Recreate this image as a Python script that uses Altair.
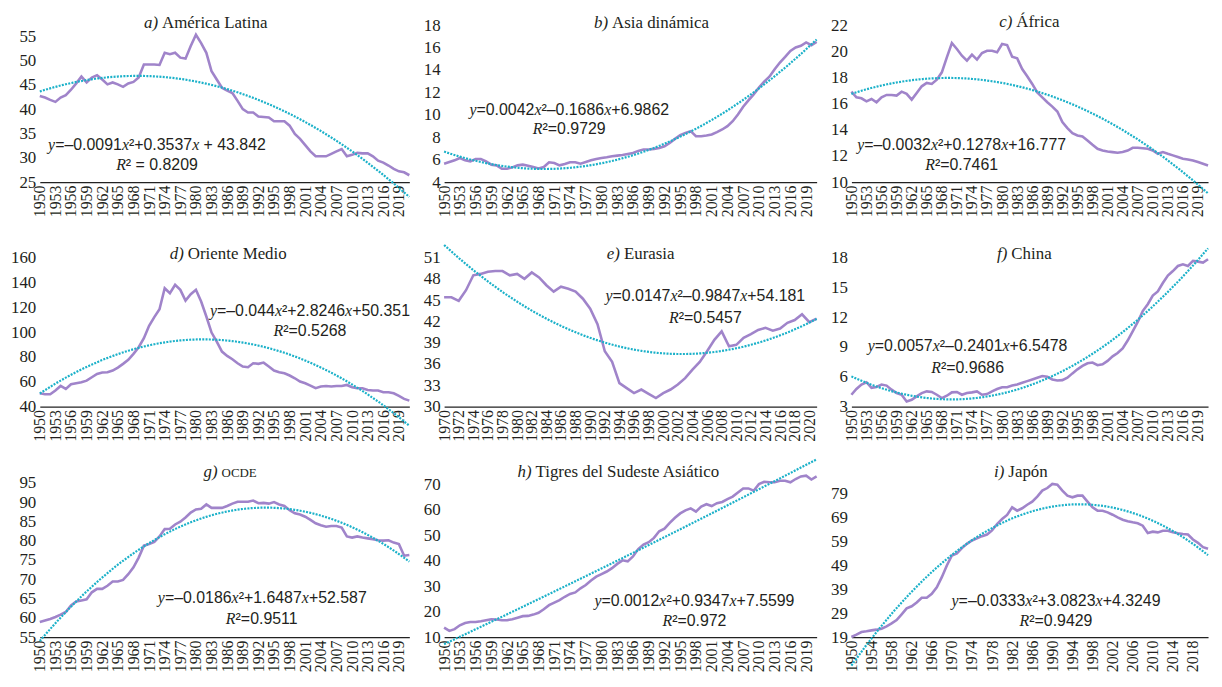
import altair as alt
import pandas as pd

years = list(range(1950, 2022))
years_eurasia = list(range(1970, 2022))

america_latina = [42.7, 42.4, 41.9, 41.5, 42.4, 42.9, 44.0, 45.3, 46.7, 45.5,
                  46.5, 47.0, 46.1, 45.1, 45.5, 45.1, 44.6, 45.3, 45.6, 46.5,
                  49.2, 49.2, 49.2, 49.1, 51.6, 51.3, 51.6, 50.6, 50.4, 53.0,
                  55.3, 53.6, 51.6, 47.8, 46.1, 44.4, 43.8, 43.3, 41.7, 40.0,
                  39.3, 39.3, 38.5, 38.4, 38.3, 37.5, 37.5, 37.5, 36.6, 34.9,
                  33.9, 32.6, 31.3, 30.3, 30.3, 30.3, 30.8, 31.3, 31.8, 30.3,
                  30.6, 31.0, 30.9, 30.9, 30.3, 29.4, 29.0, 28.4, 27.7, 27.2,
                  27.0, 26.4]

asia_dinamica = [5.64, 5.79, 5.94, 6.15, 5.94, 5.85, 6.06, 6.06, 5.85, 5.55,
                 5.49, 5.19, 5.19, 5.31, 5.49, 5.55, 5.46, 5.34, 5.22, 5.34,
                 5.76, 5.70, 5.49, 5.61, 5.76, 5.76, 5.64, 5.79, 5.94, 6.06,
                 6.15, 6.21, 6.30, 6.36, 6.42, 6.51, 6.60, 6.78, 6.90, 6.90,
                 6.96, 7.04, 7.19, 7.49, 7.85, 8.18, 8.39, 8.54, 8.09, 8.09,
                 8.15, 8.24, 8.45, 8.69, 8.99, 9.43, 10.03, 10.72, 11.28, 11.82,
                 12.42, 12.96, 13.40, 14.06, 14.66, 15.16, 15.70, 16.00, 16.15, 16.45,
                 16.21, 16.51]

africa = [16.91, 16.48, 16.40, 16.17, 16.35, 16.10, 16.48, 16.66, 16.66, 16.61,
          16.91, 16.74, 16.30, 16.81, 17.32, 17.58, 17.50, 17.83, 18.39, 19.53,
          20.63, 20.17, 19.66, 19.28, 19.74, 19.36, 19.86, 20.04, 20.04, 19.92,
          20.55, 20.47, 19.58, 19.46, 18.64, 18.09, 17.50, 16.86, 16.48, 16.10,
          15.77, 15.39, 14.58, 14.12, 13.74, 13.56, 13.48, 13.18, 12.85, 12.54,
          12.41, 12.34, 12.29, 12.24, 12.29, 12.41, 12.62, 12.62, 12.59, 12.54,
          12.41, 12.16, 12.29, 12.16, 12.04, 11.91, 11.78, 11.73, 11.65, 11.53,
          11.40, 11.27]

oriente_medio = [50.7, 49.9, 49.9, 52.9, 56.6, 54.2, 58.0, 58.8, 59.6, 60.9,
                 63.6, 66.3, 67.4, 67.7, 69.0, 71.4, 74.4, 77.6, 82.4, 87.8,
                 95.0, 105.0, 112.0, 118.4, 135.3, 131.3, 138.0, 134.0, 125.4, 130.5,
                 134.0, 124.6, 112.5, 99.6, 92.3, 84.3, 80.8, 78.1, 74.9, 72.2,
                 71.7, 74.9, 74.4, 75.4, 72.2, 69.0, 67.7, 66.8, 65.0, 62.8,
                 60.1, 58.8, 56.9, 54.8, 56.1, 56.6, 56.1, 56.6, 56.6, 57.4,
                 55.6, 54.8, 54.8, 53.4, 52.9, 52.9, 51.5, 51.5, 50.7, 48.6,
                 46.2, 44.8]

eurasia = [45.4, 45.4, 44.9, 46.4, 48.5, 48.7, 49.0, 49.1, 49.1, 48.5,
           48.7, 48.0, 48.9, 48.2, 47.1, 46.2, 46.9, 46.6, 46.2, 45.2,
           43.8, 41.6, 37.8, 36.3, 33.3, 32.6, 31.9, 32.4, 31.8, 31.2,
           31.9, 32.4, 33.1, 34.0, 35.2, 36.3, 37.8, 39.4, 40.6, 38.5,
           38.7, 39.7, 40.2, 40.8, 41.1, 40.7, 41.0, 41.8, 42.2, 43.0,
           41.9, 42.4]

china = [4.19, 4.77, 5.22, 5.45, 4.88, 4.98, 5.22, 5.11, 4.70, 4.36,
         4.19, 3.51, 3.68, 4.02, 4.36, 4.53, 4.47, 4.19, 3.85, 4.09,
         4.43, 4.47, 4.19, 4.36, 4.43, 4.53, 4.19, 4.26, 4.53, 4.77,
         4.94, 4.94, 5.11, 5.22, 5.39, 5.56, 5.73, 5.90, 6.07, 6.00,
         5.73, 5.63, 5.66, 5.90, 6.34, 6.75, 7.09, 7.36, 7.43, 7.16,
         7.26, 7.60, 8.05, 8.39, 8.86, 9.65, 10.57, 11.52, 12.61, 13.30,
         14.18, 14.59, 15.44, 16.19, 16.64, 17.15, 17.32, 17.15, 17.66, 17.59,
         17.49, 17.83]

ocde = [58.9, 59.3, 59.7, 60.2, 60.8, 61.5, 63.2, 64.2, 64.5, 64.8,
        66.6, 67.5, 67.5, 68.3, 69.4, 69.4, 69.8, 71.3, 73.1, 75.6,
        78.7, 79.1, 79.7, 81.1, 83.0, 83.1, 84.2, 84.9, 86.0, 87.3,
        88.1, 88.3, 89.4, 88.5, 88.5, 88.5, 89.0, 89.6, 90.1, 90.1,
        90.1, 90.4, 89.7, 89.8, 89.6, 90.0, 89.4, 89.0, 87.9, 87.1,
        86.8, 86.2, 85.4, 84.5, 84.0, 83.6, 83.8, 83.8, 83.4, 81.1,
        80.8, 81.1, 80.8, 80.6, 80.4, 80.1, 80.0, 80.1, 79.5, 79.1,
        76.1, 76.3]

tigres = [13.7, 12.4, 13.1, 14.6, 15.5, 15.9, 15.9, 16.2, 16.6, 17.0,
          16.9, 16.6, 16.6, 17.0, 17.6, 18.2, 18.3, 18.8, 19.5, 20.9,
          22.5, 23.5, 24.5, 25.8, 26.9, 27.5, 29.1, 30.4, 32.2, 33.7,
          34.7, 35.7, 37.0, 38.7, 40.1, 39.7, 41.6, 44.5, 46.3, 47.2,
          48.9, 51.5, 52.5, 54.8, 56.8, 58.5, 59.7, 60.5, 59.2, 61.2,
          62.1, 61.4, 62.5, 63.0, 64.1, 65.1, 66.7, 68.3, 68.3, 67.4,
          70.0, 70.9, 70.7, 70.7, 71.3, 71.3, 70.7, 72.0, 73.0, 73.3,
          71.8, 73.0]

japon = [19.0, 20.0, 21.1, 21.4, 21.8, 22.1, 22.5, 23.5, 24.7, 26.1,
         28.5, 31.0, 31.9, 33.5, 35.5, 35.5, 37.1, 39.9, 44.1, 49.0,
         53.2, 54.1, 56.3, 58.1, 59.5, 60.4, 61.3, 62.0, 63.7, 66.4,
         68.5, 70.2, 73.4, 72.0, 73.0, 74.5, 75.8, 77.9, 80.4, 81.5,
         83.2, 82.9, 80.4, 78.3, 77.6, 78.3, 78.3, 75.8, 73.4, 72.0,
         72.0, 71.3, 70.3, 69.2, 68.2, 67.6, 67.1, 66.7, 65.7, 62.6,
         63.2, 62.9, 63.6, 63.6, 62.9, 62.5, 62.2, 62.0, 59.9, 58.5,
         56.7, 56.0]

equations = {
    "a": ("y=–0.0091x²+0.3537x + 43.842", "R² = 0.8209"),
    "b": ("y=0.0042x²–0.1686x+6.9862", "R²=0.9729"),
    "c": ("y=–0.0032x²+0.1278x+16.777", "R²=0.7461"),
    "d": ("y=–0.044x²+2.8246x+50.351", "R²=0.5268"),
    "e": ("y=0.0147x²–0.9847x+54.181", "R²=0.5457"),
    "f": ("y=0.0057x²–0.2401x+6.5478", "R²=0.9686"),
    "g": ("y=–0.0186x²+1.6487x+52.587", "R²=0.9511"),
    "h": ("y=0.0012x²+0.9347x+7.5599", "R²=0.972"),
    "i": ("y=–0.0333x²+3.0823x+4.3249", "R²=0.9429"),
}

PURPLE = "#A084CA"
TEAL = "#1BB1C9"
SERIF = "'Liberation Serif', 'Times New Roman', 'DejaVu Serif', serif"
SANS = "'Liberation Sans', Arial, sans-serif"
TXT = "#231F20"

# glyph advance widths (1/1000 em): Liberation Sans for digits/operators,
# Liberation Serif Italic for x, y, R
REG = {d: 556 for d in "0123456789"}
REG.update({".": 278, "=": 584, "+": 584, "–": 556, " ": 278, "²": 333})
ITA = {"x": 444, "y": 444, "R": 611}


def runs(s):
    out = []
    for ch in s:
        it = ch in ITA
        if out and out[-1][1] == it:
            out[-1][0] += ch
        else:
            out.append([ch, it])
    return out


def twidth(s, it, size):
    tab = ITA if it else REG
    return sum(tab.get(c, 556) for c in s) * size / 1000.0


def text_one(t, x, y, size, font, italic=False, align="left"):
    return alt.Chart(pd.DataFrame({"t": [t]})).mark_text(
        align=align, baseline="alphabetic", font=font, fontSize=size,
        fontStyle="italic" if italic else "normal", color=TXT
    ).encode(x=alt.value(x), y=alt.value(y), text="t:N")


def eq_layers(s, cx, y, size=16):
    rs = runs(s)
    total = sum(twidth(t, it, size) for t, it in rs)
    x0 = cx - total / 2.0
    out = []
    for t, it in rs:
        lead = len(t) - len(t.lstrip(" "))
        shown = t.strip(" ")
        if shown:
            out.append(text_one(shown, x0 + twidth(" " * lead, False, size), y, size,
                                SERIF if it else SANS, it))
        x0 += twidth(t, it, size)
    return out


def panel(yrs, vals, ydom, yticks, xticks, w, h, tag, name, tx, ty, ex, ey1, ey2,
          name_size=17):
    df = pd.DataFrame({"year": yrs, "value": vals})
    xenc = alt.X("year:Q", title=None,
                 scale=alt.Scale(domain=[yrs[0], yrs[-1]], nice=False, zero=False),
                 axis=alt.Axis(values=xticks, format="d", labelAngle=-90,
                               labelFont=SERIF, labelFontSize=16, labelColor=TXT,
                               labelPadding=3, labelOverlap=False, labelFlush=False,
                               ticks=False, tickSize=0, grid=False,
                               domain=True, domainColor="#222222", domainWidth=1.2))
    yenc = alt.Y("value:Q", title=None,
                 scale=alt.Scale(domain=ydom, nice=False, zero=False),
                 axis=alt.Axis(values=yticks, labelFont=SERIF, labelFontSize=17,
                               labelColor=TXT, labelPadding=4, labelOverlap=False,
                               labelFlush=False, ticks=False, tickSize=0,
                               grid=False, domain=False))
    base = alt.Chart(df)
    line = base.mark_line(color=PURPLE, strokeWidth=2.6).encode(x=xenc, y=yenc)
    trend = base.transform_regression(
        "year", "value", method="poly", order=2
    ).mark_line(color=TEAL, strokeWidth=2.2, strokeDash=[2, 1.3]).encode(x=xenc, y=yenc)
    layers = [line, trend]
    layers.append(text_one(tag, tx, ty, 17, SERIF, italic=True, align="right"))
    layers.append(text_one(name, tx + 4, ty, name_size, SERIF))
    e1, e2 = equations[tag[0]]
    layers += eq_layers(e1, ex, ey1)
    layers += eq_layers(e2, ex, ey2)
    return alt.layer(*layers).properties(width=w, height=h)


xt3 = list(range(1950, 2020, 3))
W1, W2, W3 = 372, 375, 359
H1, H2, H3 = 158, 150, 156

pa = panel(years, america_latina, [25, 57.3], [25, 30, 35, 40, 45, 50, 55], xt3,
           W1, H1, "a)", "América Latina", 119, 3, 118, 126, 146)
pb = panel(years, asia_dinamica, [4, 18], [4, 6, 8, 10, 12, 14, 16, 18], xt3,
           W2, H1, "b)", "Asia dinámica", 165, 3, 126, 90, 110)
pc = panel(years, africa, [10, 22], [10, 12, 14, 16, 18, 20, 22], xt3,
           W3, H1, "c)", "África", 162, 2, 111, 126, 146)
pd_ = panel(years, oriente_medio, [40, 160], [40, 60, 80, 100, 120, 140, 160], xt3,
            W1, H2, "d)", "Oriente Medio", 145, 1, 272, 59, 79)
pe = panel(years_eurasia, eurasia, [30, 51], [30, 33, 36, 39, 42, 45, 48, 51],
           list(range(1970, 2021, 2)),
           W2, H2, "e)", "Eurasia", 177, 1, 263, 44, 66)
pf = panel(years, china, [3, 18], [3, 6, 9, 12, 15, 18], xt3,
           W3, H2, "f)", "China", 157, 1, 117, 94, 116)
pg = panel(years, ocde, [55, 95.2], [55, 60, 65, 70, 75, 80, 85, 90, 95], xt3,
           W1, H3, "g)", "OCDE", 179, -5, 224, 122, 143, name_size=13)
ph = panel(years, tigres, [10, 70.8], [10, 20, 30, 40, 50, 60, 70], xt3,
           W2, H3, "h)", "Tigres del Sudeste Asiático", 88, -5, 252, 125, 145)
pi = panel(years, japon, [19, 84], [19, 29, 39, 49, 59, 69, 79],
           list(range(1950, 2019, 4)),
           W3, H3, "i)", "Japón", 154, -5, 206, 125, 145)

chart = alt.concat(
    pa, pb, pc, pd_, pe, pf, pg, ph, pi,
    columns=3, spacing={"row": 76, "column": 35}, bounds="flush", align="each"
).properties(
    padding={"left": 2, "top": 3, "right": 0, "bottom": 0}
).configure_view(stroke=None)

chart.save("out.html", embed_options={"renderer": "svg", "actions": False})
